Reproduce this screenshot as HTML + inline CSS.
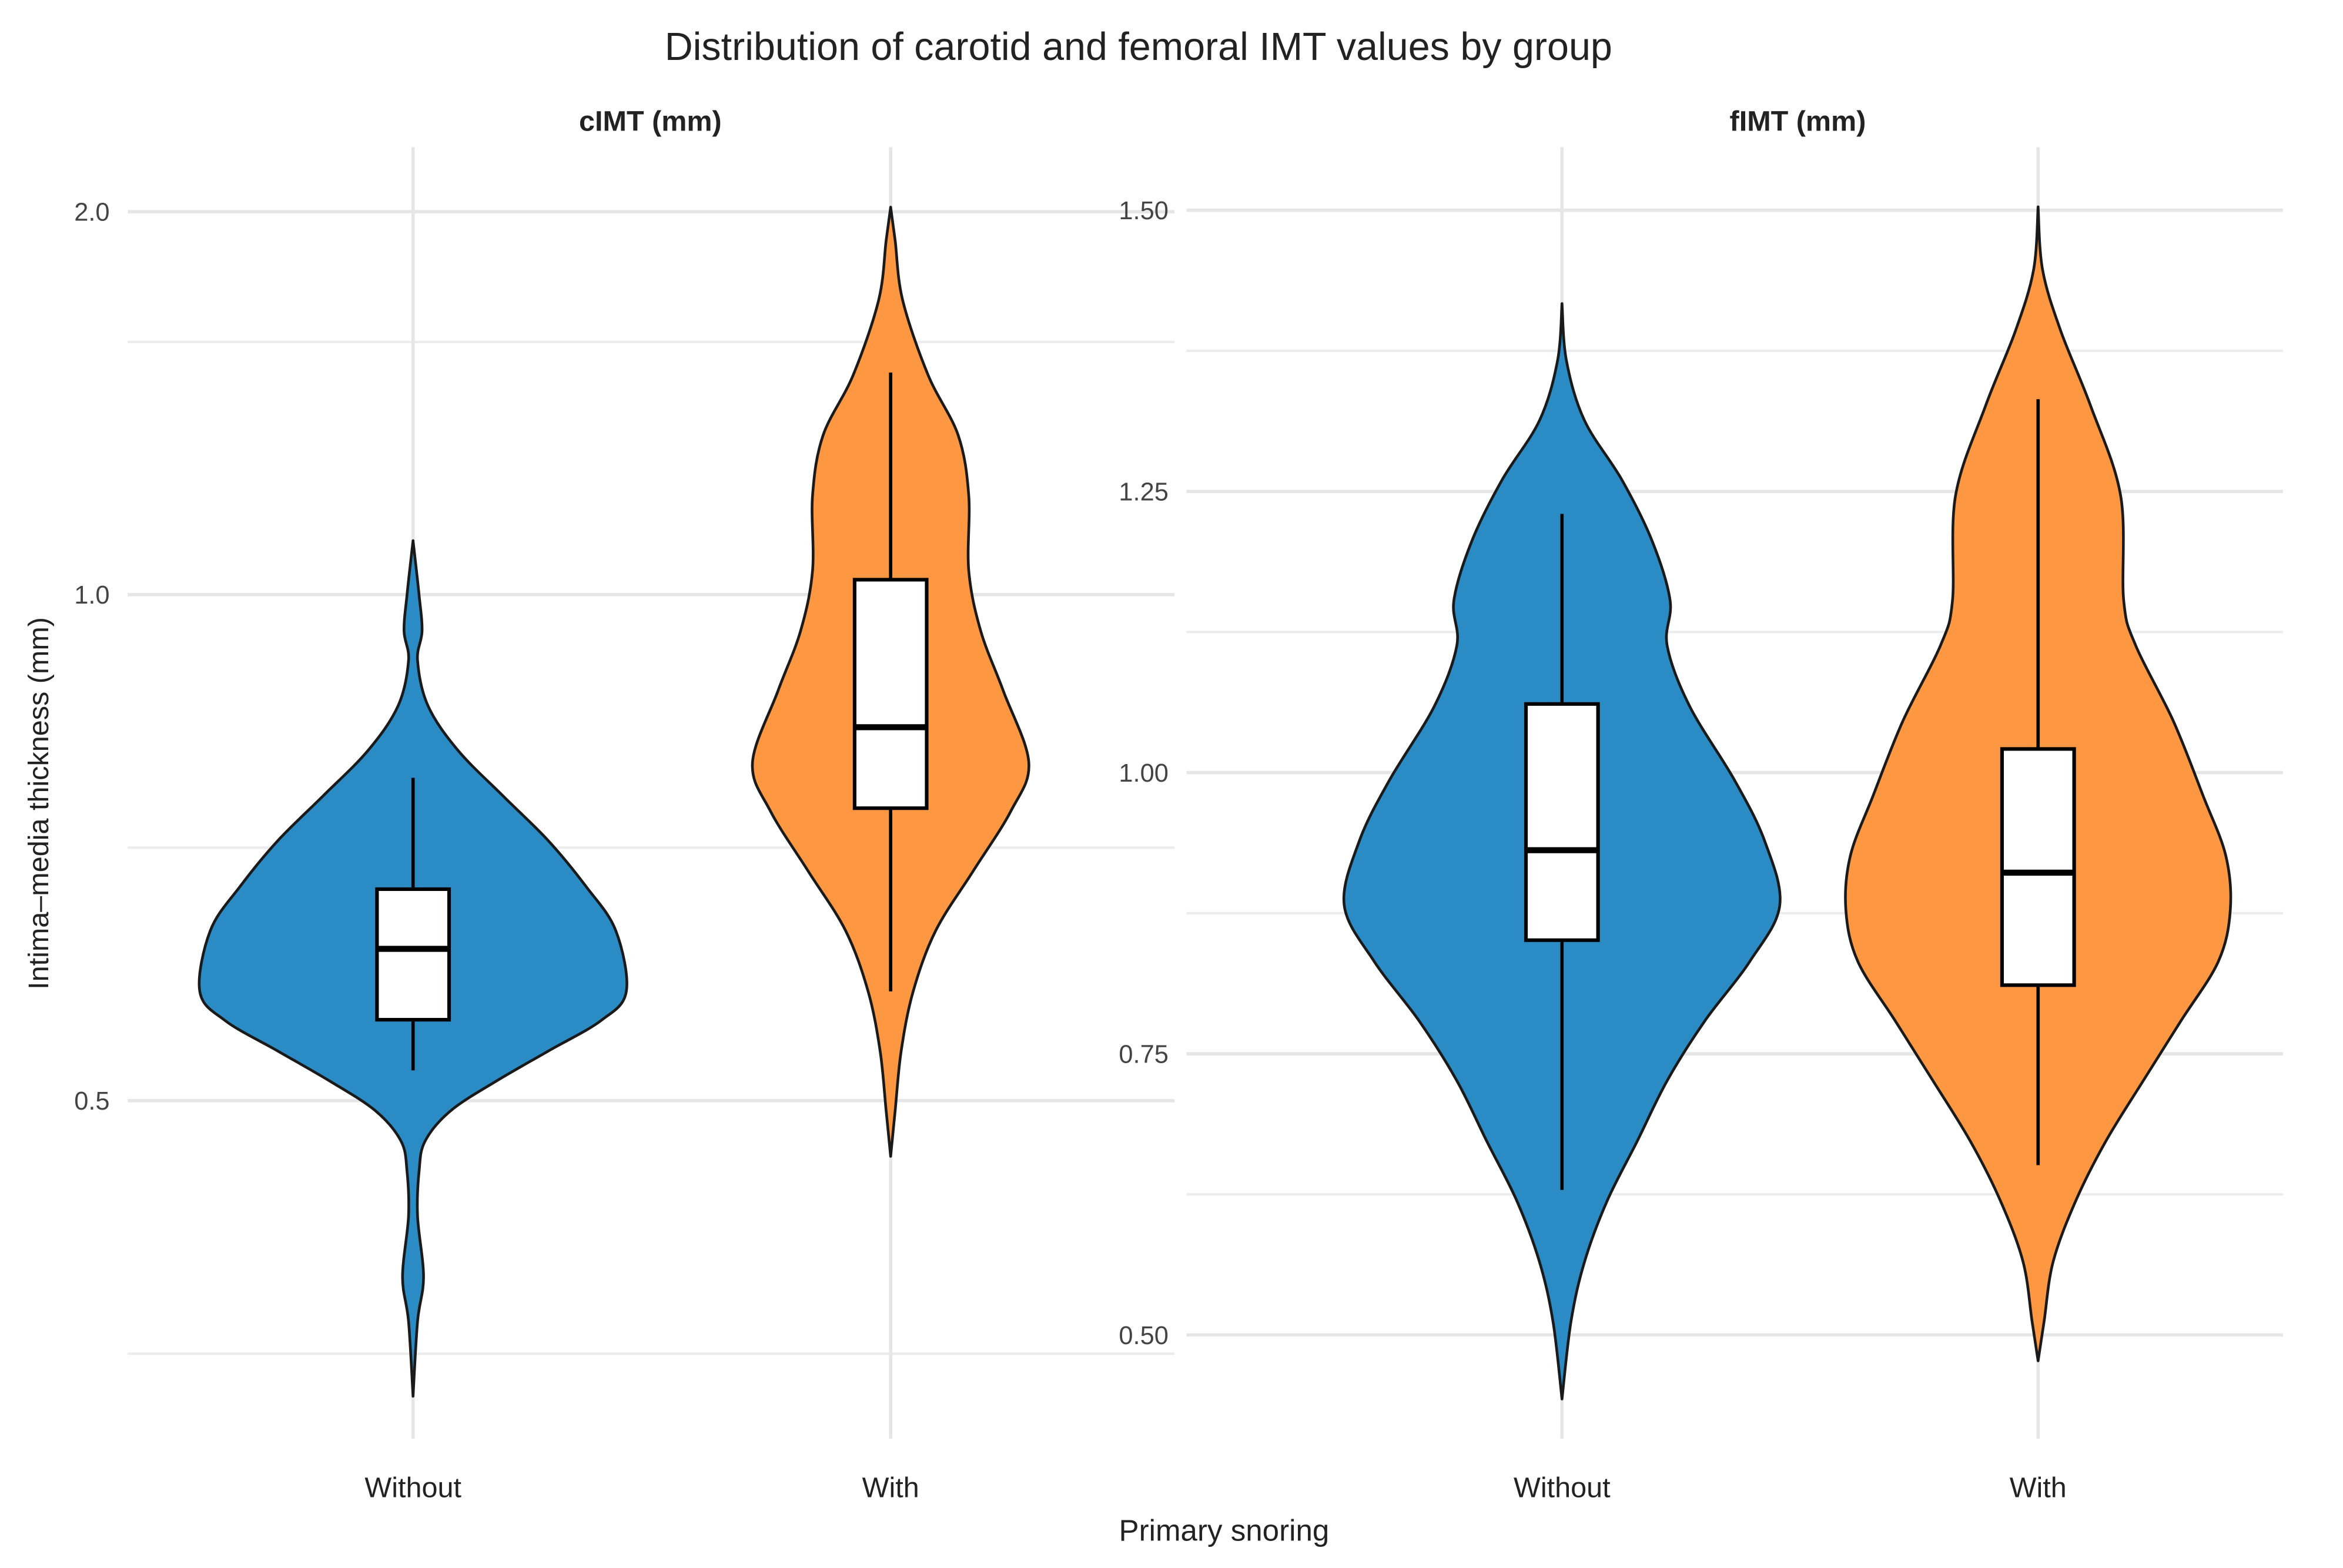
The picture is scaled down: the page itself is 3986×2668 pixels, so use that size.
<!DOCTYPE html>
<html><head><meta charset="utf-8">
<style>
html,body{margin:0;padding:0;background:#fff;}
svg{display:block;font-family:"Liberation Sans",sans-serif;}
</style></head>
<body>
<svg id="chart" width="3986" height="2668" viewBox="0 0 1560 1044.2" xmlns="http://www.w3.org/2000/svg">
<rect x="0" y="0" width="1560" height="1044.2" fill="#fff"/>
<text x="758" y="40" font-size="26" text-anchor="middle" fill="#222">Distribution of carotid and femoral IMT values by group</text>
<text x="433" y="87" font-size="19" font-weight="bold" text-anchor="middle" fill="#222">cIMT (mm)</text>
<text x="1197" y="87" font-size="19" font-weight="bold" text-anchor="middle" fill="#222">fIMT (mm)</text>
<text transform="translate(32,535) rotate(-90)" font-size="19" text-anchor="middle" fill="#222">Intima–media thickness (mm)</text>
<text x="815" y="1026" font-size="20" text-anchor="middle" fill="#222">Primary snoring</text>
<g id="grid"></g>
<g id="marks"></g>
</svg>
<script>
// ---- data ----
const categories = ["Without", "With"];
const cTicks = [0.5, 1.0, 2.0];
const cTickLabels = ["0.5", "1.0", "2.0"];
const cMinor = [0.25, 0.75, 1.66];
const fTicks = [0.5, 0.75, 1.0, 1.25, 1.5];
const fTickLabels = ["0.50", "0.75", "1.00", "1.25", "1.50"];
const fMinor = [0.625, 0.875, 1.125, 1.375];

// violin profiles: values and relative half-widths
const cWithoutVals = [1.141,1.0,0.964,0.935,0.890,0.846,0.801,0.757,0.712,0.668,0.608,0.579,0.549,0.519,0.490,0.460,0.430,0.386,0.326,0.282,0.208];
const cWithoutDens = [0,4,6,3,10,30,60,90,115,135,142,125,90,55,25,8,4,3,7,3,0];
const cWithVals = [2.012,1.925,1.769,1.573,1.416,1.259,1.063,0.964,0.905,0.834,0.786,0.727,0.668,0.608,0.549,0.490,0.445];
const cWithDens = [0,3,8,25,45,52,52,60,75,92,80,55,30,15,7,3,0];
const fWithoutVals = [1.417,1.366,1.313,1.260,1.206,1.153,1.113,1.059,0.993,0.939,0.882,0.832,0.779,0.726,0.672,0.619,0.565,0.512,0.443];
const fWithoutDens = [0,3,15,40,60,72,70,85,115,135,145,125,95,70,50,30,15,6,0];
const fWithVals = [1.503,1.447,1.393,1.326,1.246,1.153,1.113,1.046,0.979,0.926,0.878,0.832,0.779,0.726,0.672,0.619,0.565,0.512,0.477];
const fWithDens = [0,3,15,35,55,57,65,90,110,125,128,120,95,70,45,25,10,4,0];

// boxplot stats: [lowerWhisker, Q1, median, Q3, upperWhisker]
const cWithoutBox = [0.530,0.580,0.650,0.709,0.819];
const cWithBox = [0.608,0.789,0.869,1.039,1.580];
const fWithoutBox = [0.629,0.851,0.931,1.061,1.230];
const fWithBox = [0.651,0.811,0.911,1.021,1.332];

// ---- scales ----
function yC(v){ // piecewise axis matching reference
  if (v >= 1.0) return 396 - (v - 1.0) * 255;
  return 396 + (1.0 - v) * 674;
}
function yF(v){ return 140 + (1.5 - v) * 749; }
const xC = {"Without":275, "With":593};
const xF = {"Without":1040, "With":1357};

const NS = "http://www.w3.org/2000/svg";
const grid = document.getElementById("grid");
const marks = document.getElementById("marks");
function mk(tag, attrs, parent){
  const e = document.createElementNS(NS, tag);
  for (const k in attrs) e.setAttribute(k, attrs[k]);
  parent.appendChild(e);
  return e;
}

function panel(xl, xr, ys, ticks, labels, minor, xs, prefix){
  minor.forEach(v=>{
    const l = mk("line",{x1:xl,x2:xr,y1:ys(v),y2:ys(v),stroke:"#ececec","stroke-width":1.6},grid);
    
    
  });
  ticks.forEach((v,i)=>{
    const l = mk("line",{x1:xl,x2:xr,y1:ys(v),y2:ys(v),stroke:"#e6e6e6","stroke-width":2.2},grid);
    
    
    const t = mk("text",{x:xl-12,y:ys(v)+6,"font-size":17,"text-anchor":"end",fill:"#444"},grid);
    t.textContent = labels[i];
    
    
  });
  categories.forEach(c=>{
    const l = mk("line",{x1:xs[c],x2:xs[c],y1:98,y2:958,stroke:"#e6e6e6","stroke-width":2.2},grid);
    
    
    const t = mk("text",{x:xs[c],y:997,"font-size":19,"text-anchor":"middle",fill:"#222"},grid);
    t.textContent = c;
    
    
  });
}
panel(85, 782, yC, cTicks, cTickLabels, cMinor, xC, "cimt");
panel(790, 1520, yF, fTicks, fTickLabels, fMinor, xF, "fimt");

function smoothPath(pts){
  let d = "M"+pts[0][0]+","+pts[0][1];
  for (let i=0;i<pts.length-1;i++){
    const p0=pts[Math.max(i-1,0)], p1=pts[i], p2=pts[i+1], p3=pts[Math.min(i+2,pts.length-1)];
    const c1x=p1[0]+(p2[0]-p0[0])/6, c1y=p1[1]+(p2[1]-p0[1])/6;
    const c2x=p2[0]-(p3[0]-p1[0])/6, c2y=p2[1]-(p3[1]-p1[1])/6;
    d += " C"+c1x.toFixed(2)+","+c1y.toFixed(2)+" "+c2x.toFixed(2)+","+c2y.toFixed(2)+" "+p2[0].toFixed(2)+","+p2[1].toFixed(2);
  }
  return d;
}

function violin(vals, dens, box, cx, ys, color, name){
  const right = vals.map((v,i)=>[cx+dens[i], ys(v)]);
  const left = vals.map((v,i)=>[cx-dens[i], ys(v)]).reverse();
  const d = smoothPath(right) + " L" + smoothPath(left).slice(1) + " Z";
  const p = mk("path",{d:d,fill:color,stroke:"#1a1a1a","stroke-width":1.8,"stroke-linejoin":"round"},marks);
  
  
  const w = mk("line",{x1:cx,x2:cx,y1:ys(box[0]),y2:ys(box[4]),stroke:"#000","stroke-width":2.2},marks);
  
  
  const r = mk("rect",{x:cx-24,y:ys(box[3]),width:48,height:ys(box[1])-ys(box[3]),fill:"#fff",stroke:"#000","stroke-width":2.4},marks);
  
  
  const m = mk("line",{x1:cx-24,x2:cx+24,y1:ys(box[2]),y2:ys(box[2]),stroke:"#000","stroke-width":4},marks);
  
  
}
const BLUE="#2b8cc5", ORANGE="#fd9741";
violin(cWithoutVals, cWithoutDens, cWithoutBox, xC["Without"], yC, BLUE, "cimt-without");
violin(cWithVals, cWithDens, cWithBox, xC["With"], yC, ORANGE, "cimt-with");
violin(fWithoutVals, fWithoutDens, fWithoutBox, xF["Without"], yF, BLUE, "fimt-without");
violin(fWithVals, fWithDens, fWithBox, xF["With"], yF, ORANGE, "fimt-with");
</script>
</body></html>
